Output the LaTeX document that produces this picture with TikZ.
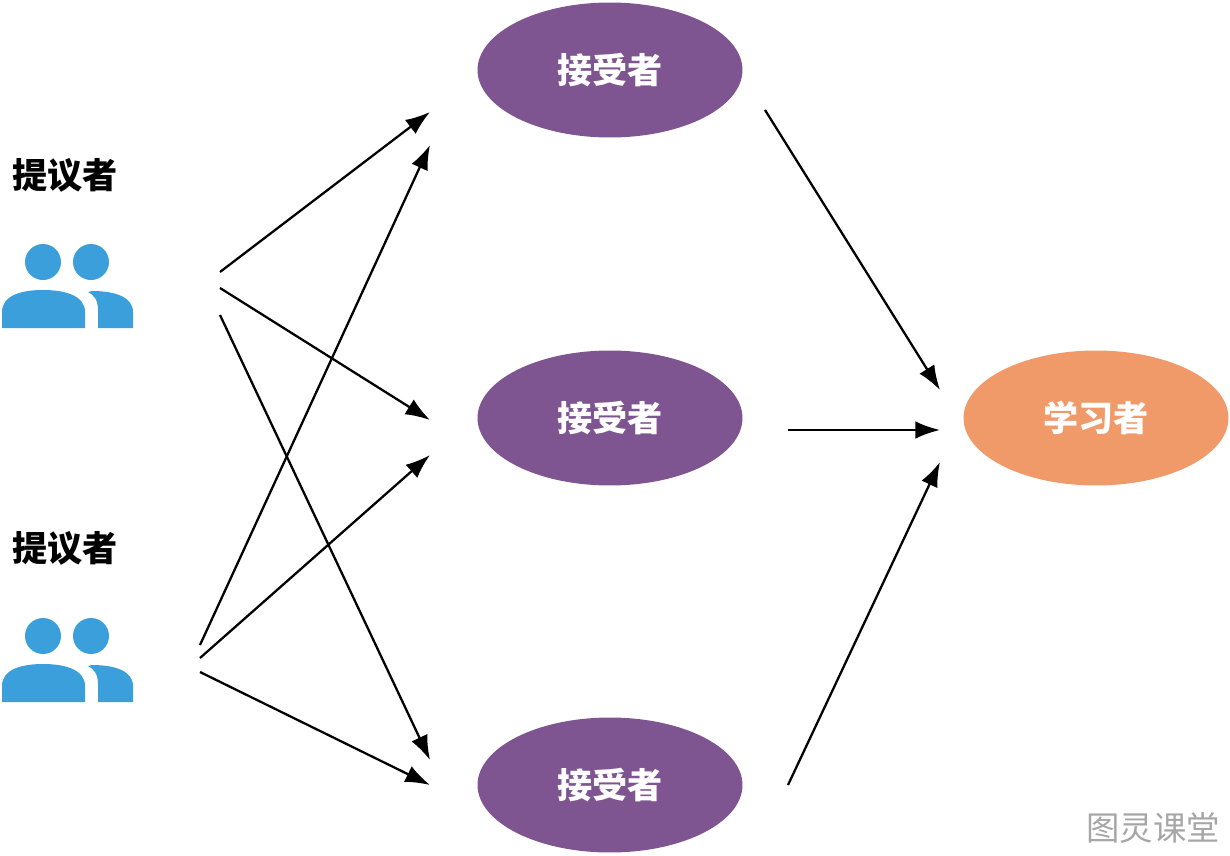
\documentclass[tikz,border=0pt]{standalone}
\usepackage{fontspec}
\setmainfont{Noto Sans CJK SC}
\usetikzlibrary{shapes.geometric, arrows.meta, positioning}
\definecolor{acceptpurple}{HTML}{7F5591}
\definecolor{learnorange}{HTML}{F09A6A}
\definecolor{peopleblue}{HTML}{3A9FDB}

\begin{document}
\begin{tikzpicture}[x=0.02cm, y=-0.02cm,
    role/.style={ellipse, minimum width=5.3cm, minimum height=2.7cm, text=white, font=\bfseries\fontsize{20}{24}\selectfont},
    label/.style={font=\bfseries\fontsize{20}{24}\selectfont},
    link/.style={-{Latex[length=14pt, width=10pt]}, line width=1.3pt},
]
    \useasboundingbox (0,0) rectangle (1230,855);

    % acceptors and learner
    \node[role, fill=acceptpurple] (acc1) at (610,70) {接受者};
    \node[role, fill=acceptpurple] (acc2) at (610,418) {接受者};
    \node[role, fill=acceptpurple] (acc3) at (610,785) {接受者};
    \node[role, fill=learnorange] (learner) at (1096,418) {学习者};

    % proposers
    \node[label] (prop1) at (65,175) {提议者};
    \node[label] (prop2) at (65,548) {提议者};
    \foreach \dy in {0, 374} {
        \begin{scope}[yshift=-\dy*0.02cm]
            \fill[peopleblue] (43,262) circle (18);
            \fill[peopleblue] (91,262) circle (18);
            \fill[peopleblue] (2,328) -- (2,312) .. controls (2,296) and (20,290) .. (43,290)
                .. controls (66,290) and (85,296) .. (85,312) -- (85,328) -- cycle;
            \fill[peopleblue] (98,328) -- (98,310) .. controls (98,300) and (94,295) .. (88,292)
                -- (92,291) .. controls (115,291) and (133,297) .. (133,312) -- (133,328) -- cycle;
        \end{scope}
    }

    % connector end points
    \coordinate (a1) at (220,272); \coordinate (a2) at (220,288); \coordinate (a3) at (220,315);
    \coordinate (b1) at (200,645); \coordinate (b2) at (200,658); \coordinate (b3) at (200,672);
    \coordinate (t1) at (430,112); \coordinate (t2) at (430,420); \coordinate (t3) at (430,760);
    \coordinate (u1) at (430,145); \coordinate (u2) at (430,455); \coordinate (u3) at (430,785);
    \coordinate (s1) at (765,110); \coordinate (s2) at (788,430); \coordinate (s3) at (788,785);
    \coordinate (e1) at (940,390); \coordinate (e2) at (940,430); \coordinate (e3) at (940,462);

    \draw[link] (a1) -- (t1);
    \draw[link] (a2) -- (t2);
    \draw[link] (a3) -- (t3);
    \draw[link] (b1) -- (u1);
    \draw[link] (b2) -- (u2);
    \draw[link] (b3) -- (u3);
    \draw[link] (s1) -- (e1);
    \draw[link] (s2) -- (e2);
    \draw[link] (s3) -- (e3);

    % watermark
    \node[text=gray!70, font=\fontsize{19}{22}\selectfont] (mark) at (1153,828) {图灵课堂};
\end{tikzpicture}
\end{document}
